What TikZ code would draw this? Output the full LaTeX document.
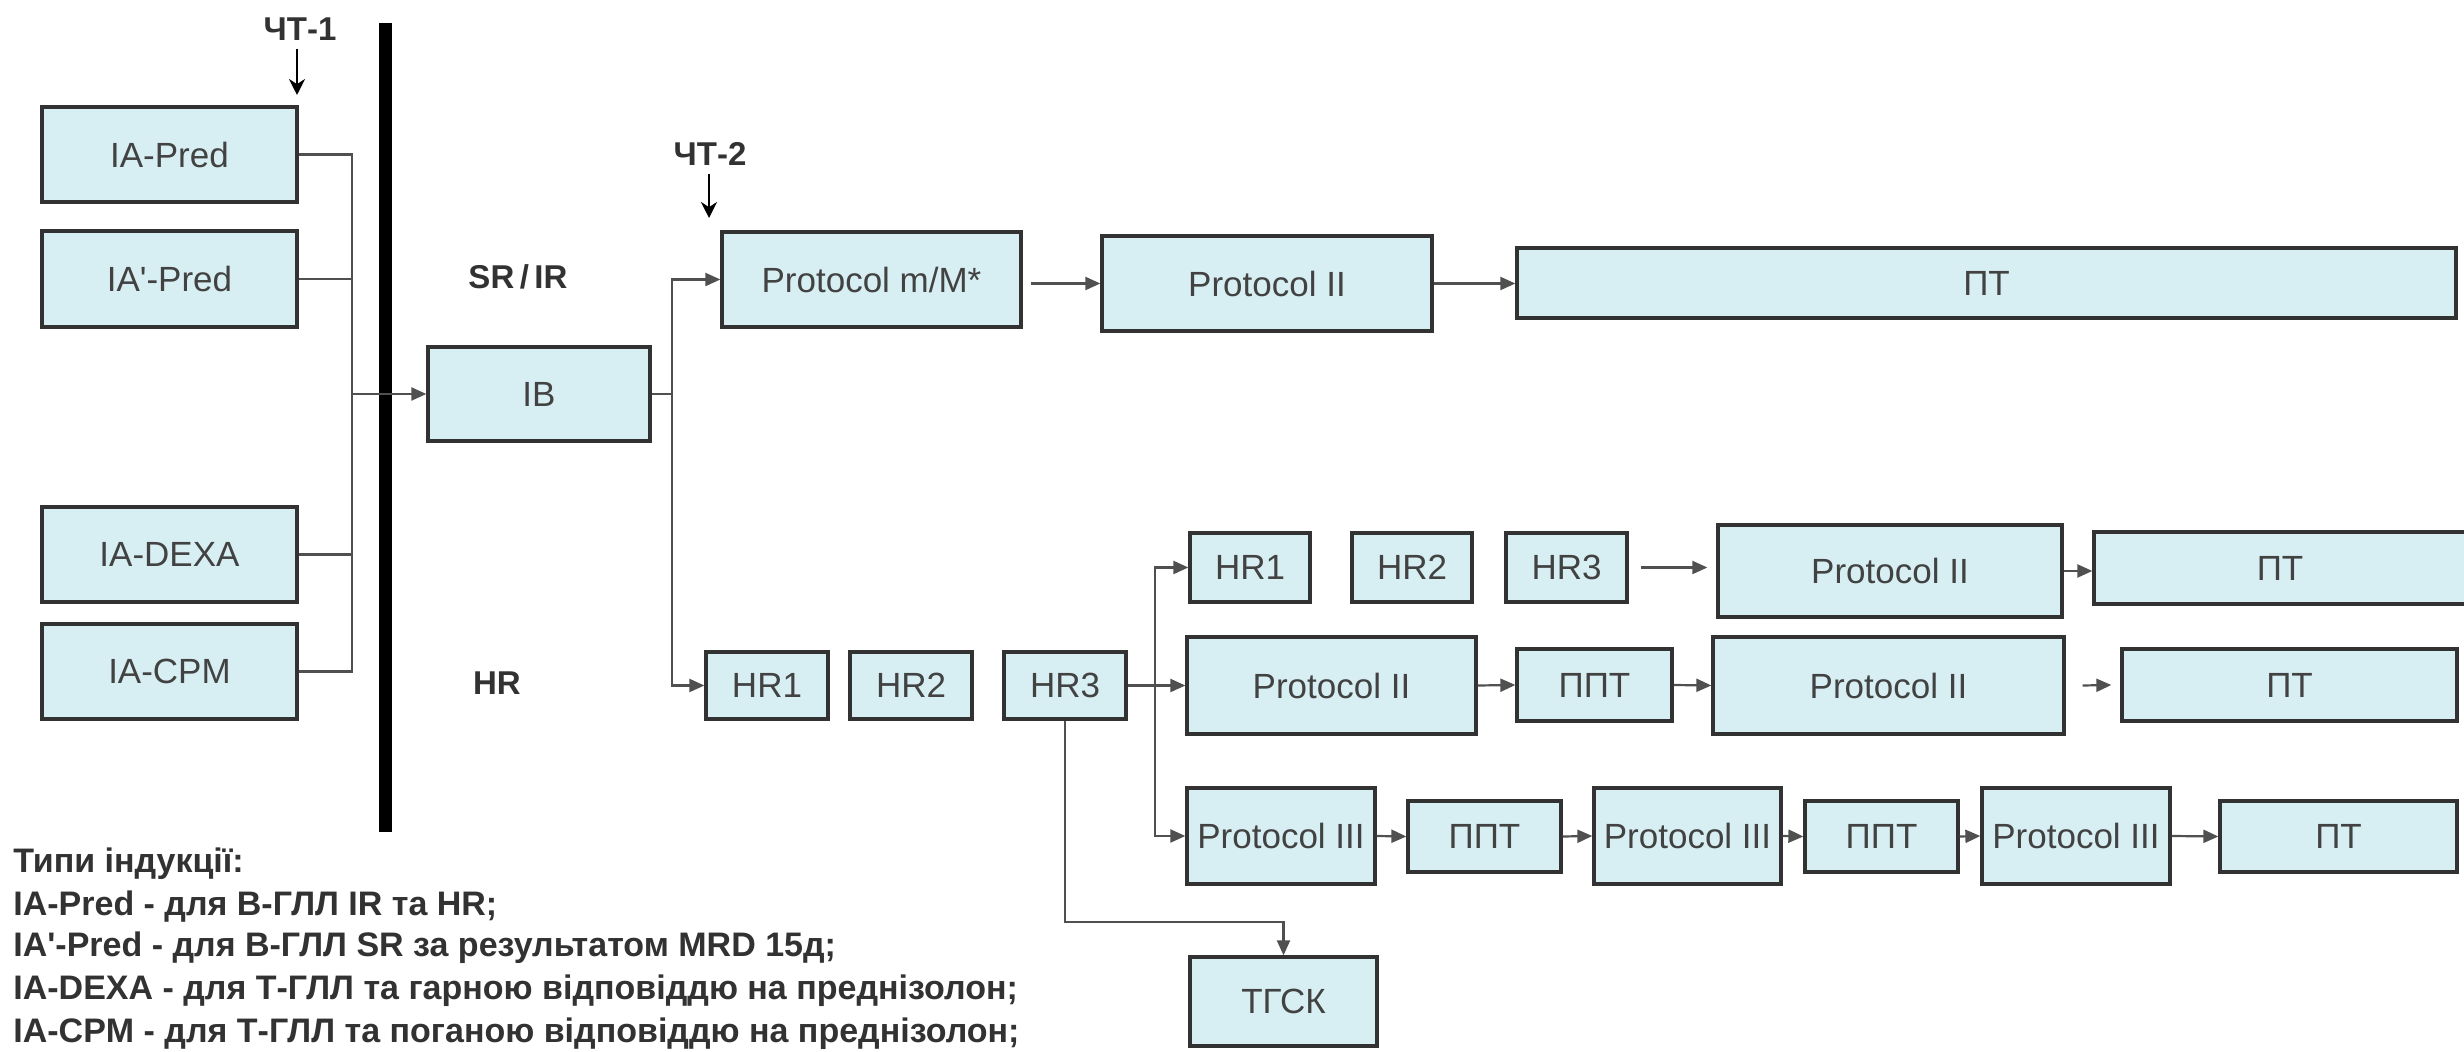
\documentclass[tikz,border=0pt]{standalone}
\usepackage{fontspec}
\setmainfont{Liberation Sans}[Ligatures=TeXOff]
\usetikzlibrary{arrows.meta}
\definecolor{boxfill}{RGB}{215,239,243}
\definecolor{boxline}{RGB}{50,50,50}
\definecolor{boxtxt}{RGB}{66,66,66}
\definecolor{labtxt}{RGB}{50,50,50}
\definecolor{conncol}{RGB}{80,80,80}
\begin{document}
\begin{tikzpicture}[x=0.5pt,y=-0.5pt,
  box/.style={draw=boxline, line width=1.65pt, fill=boxfill, inner sep=0pt, text=boxtxt,
    font=\fontsize{17.5pt}{20pt}\selectfont},
  sz/.style 2 args={minimum width=#1*0.5pt, minimum height=#2*0.5pt},
  conn/.style={draw=conncol, line width=1.1pt},
  arr/.style={-{Triangle[length=7.5pt,width=6.5pt]}},
  downarr/.style={draw=black, line width=1pt, -{Stealth[length=8pt,width=8pt]}},
  lab/.style={inner sep=0pt, text=labtxt, font=\fontsize{16.5pt}{19pt}\selectfont\bfseries},
  leg/.style={inner sep=0pt, text=labtxt, font=\fontsize{17pt}{20pt}\selectfont\bfseries}]
\useasboundingbox (0,0) rectangle (2464,1052);
\fill[white] (0,0) rectangle (2464,1052);

% thick separator bar
\draw[line width=6.25pt, black] (385.5,23) -- (385.5,832);

% left column
\node[box, sz={255}{95}] (iapred) at (169.5,154.5) {IA-Pred};
\node[box, sz={255}{96}] (iapredp) at (169.5,279) {IA'-Pred};
\node[box, sz={255}{95}] (iadexa) at (169.5,554.5) {IA-DEXA};
\node[box, sz={255}{95}] (iacpm) at (169.5,671.5) {IA-CPM};
\node[box, sz={222}{94}] (ib) at (539,394) {IB};

% SR/IR branch
\node[box, sz={299}{95}] (pm) at (871.5,279.5) {Protocol m/M*};
\node[box, sz={330}{95}] (p2a) at (1267,283.5) {Protocol II};
\node[box, sz={939}{70}] (pta) at (1986.5,283) {ПТ};

% HR first row
\node[box, sz={122}{67}] (hr1) at (767,685.5) {HR1};
\node[box, sz={122}{67}] (hr2) at (911,685.5) {HR2};
\node[box, sz={122}{67}] (hr3) at (1065,685.5) {HR3};

% HR upper row
\node[box, sz={120}{69}] (hr1b) at (1250,567.5) {HR1};
\node[box, sz={120}{69}] (hr2b) at (1412,567.5) {HR2};
\node[box, sz={121}{69}] (hr3b) at (1566.5,567.5) {HR3};
\node[box, sz={344}{92}] (p2b) at (1890,571) {Protocol II};
\node[box, sz={372}{72}] (ptb) at (2280,568) {ПТ};

% HR middle row
\node[box, sz={289}{97}] (p2c) at (1331.5,685.5) {Protocol II};
\node[box, sz={155}{72}] (ppt1) at (1594.5,685) {ППТ};
\node[box, sz={351}{97}] (p2d) at (1888.5,685.5) {Protocol II};
\node[box, sz={335}{72}] (ptc) at (2289.5,685) {ПТ};

% HR lower row
\node[box, sz={188}{96}] (p3a) at (1281,836) {Protocol III};
\node[box, sz={153}{71}] (ppt2) at (1484.5,836.5) {ППТ};
\node[box, sz={187}{96}] (p3b) at (1687.5,836) {Protocol III};
\node[box, sz={153}{71}] (ppt3) at (1881.5,836.5) {ППТ};
\node[box, sz={188}{96}] (p3c) at (2076,836) {Protocol III};
\node[box, sz={237}{71}] (ptd) at (2338.5,836.5) {ПТ};

\node[box, sz={187}{89}] (tgsk) at (1283.5,1001.5) {ТГСК};

% labels
\node[lab] (ct1) at (300,29) {ЧТ-1};
\node[lab] (ct2) at (710,154) {ЧТ-2};
\node[lab] (srir) at (518,277) {SR\,/\,IR};
\node[lab] (hrl) at (497,683) {HR};

% legend
\node[leg, anchor=base west] (leg1) at (13,873) {Типи індукції:};
\node[leg, anchor=base west] (leg2) at (13,915) {IA-Pred - для В-ГЛЛ IR та HR;};
\node[leg, anchor=base west] (leg3) at (13,957) {IA'-Pred - для В-ГЛЛ SR за результатом MRD 15д;};
\node[leg, anchor=base west] (leg4) at (13,1000) {IA-DEXA - для Т-ГЛЛ та гарною відповіддю на преднізолон;};
\node[leg, anchor=base west] (leg5) at (13,1042) {IA-CPM - для Т-ГЛЛ та поганою відповіддю на преднізолон;};

% helper coordinates
\coordinate (a1) at (297,95);
\coordinate (a2) at (709,218);
\coordinate (jn) at (352,394);
\coordinate (sp) at (672,394);
\coordinate (br) at (1155,685.5);
\coordinate (tk) at (1065,922);

% label arrows
\draw[downarr, shorten <=4pt] (ct1.south -| a1) -- (a1);
\draw[downarr, shorten <=4pt] (ct2.south -| a2) -- (a2);

% collector into IB
\draw[conn] (iapred.east) -| (jn);
\draw[conn] (iapredp.east) -| (jn);
\draw[conn] (iadexa.east) -| (jn);
\draw[conn] (iacpm.east) -| (jn);
\draw[conn, arr] (jn) -- (ib.west);

% split after IB
\draw[conn] (ib.east) -- (sp);
\draw[conn, arr] (sp) |- (pm.west);
\draw[conn, arr] (sp) |- (hr1.west);

% SR/IR chain
\draw[conn, arr] ([xshift=4pt]pm.east |- p2a.west) -- (p2a.west);
\draw[conn, arr] (p2a.east) -- (pta.west |- p2a.east);

% HR branching
\draw[conn, arr] (hr3.east) -- (p2c.west);
\draw[conn, arr] (br) |- (hr1b.west);
\draw[conn, arr] (br) |- (p3a.west);

% upper row
\draw[conn, arr] ([xshift=6pt]hr3b.east) -- ([xshift=-4.5pt]p2b.west |- hr3b.east);
\draw[conn, arr] (p2b.east) -- (ptb.west |- p2b.east);

% middle row
\draw[conn, arr] (p2c.east) -- (ppt1.west);
\draw[conn, arr] (ppt1.east) -- (p2d.west);
\draw[conn, arr] ([xshift=8.5pt]p2d.east) -- ([xshift=-4.5pt]ptc.west);

% lower row
\draw[conn, arr] (p3a.east) -- (ppt2.west);
\draw[conn, arr] (ppt2.east) -- (p3b.west);
\draw[conn, arr] (p3b.east) -- (ppt3.west);
\draw[conn, arr] (ppt3.east) -- (p3c.west);
\draw[conn, arr] (p3c.east) -- (ptd.west);

% to TGSK
\draw[conn, arr] (hr3.south) -- (tk) -| (tgsk.north);
\end{tikzpicture}
\end{document}
